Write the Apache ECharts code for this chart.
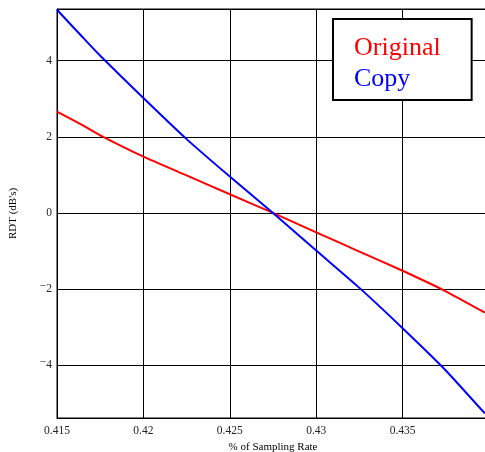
<!DOCTYPE html>
<html>
<head>
<meta charset="utf-8">
<script src="https://cdn.jsdelivr.net/npm/echarts@6/dist/echarts.min.js"></script>
<style>
html,body{margin:0;padding:0;background:#fff;}
#c{width:485px;height:452px;}
</style>
</head>
<body>
<div id="c"></div>
<script>
// Data
var xValues = [0.415, 0.4165, 0.4175, 0.42, 0.4225, 0.425, 0.4275, 0.43, 0.4325, 0.435, 0.4375, 0.43976];
var originalValues = [2.66, 2.3, 2.04, 1.48, 0.985, 0.49, 0.0, -0.51, -1.015, -1.52, -2.06, -2.62];
var copyValues = [5.34, 4.61, 4.13, 3.02, 1.94, 0.955, 0.0, -0.99, -1.97, -3.03, -4.14, -5.27];
var seriesNames = ['Original', 'Copy'];
var xTickLabels = ['0.415', '0.42', '0.425', '0.43', '0.435'];
var xAxisTitle = '% of Sampling Rate';
var yAxisTitle = "RDT (dB's)";

function pairs(xs, ys) {
  return xs.map(function (x, i) { return [x, ys[i]]; });
}

var chart = echarts.init(document.getElementById('c'), null, {renderer: 'canvas'});
var font = "'Liberation Serif', 'Times New Roman', serif";

chart.setOption({
  animation: false,
  backgroundColor: '#fff',
  textStyle: {fontFamily: font},
  grid: {
    left: 57, top: 9, right: -4, bottom: 34,
    outerBoundsMode: 'none',
    containLabel: false,
    show: true, borderColor: '#000', borderWidth: 1, backgroundColor: 'transparent'
  },
  legend: {
    orient: 'vertical',
    left: 333, top: 19,
    icon: 'none',
    itemWidth: 0, itemHeight: 0,
    itemGap: 5,
    padding: [16, 31, 8, 16],
    backgroundColor: '#fff',
    borderColor: '#000',
    borderWidth: 2,
    borderRadius: 0,
    selectedMode: false,
    data: [
      {name: seriesNames[0], textStyle: {color: '#ff0000'}},
      {name: seriesNames[1], textStyle: {color: '#0000ff'}}
    ],
    textStyle: {fontFamily: font, fontSize: 26, lineHeight: 26}
  },
  xAxis: {
    type: 'value',
    min: 0.415, max: 0.44, interval: 0.005,
    name: xAxisTitle,
    nameLocation: 'middle',
    nameGap: 22,
    nameTextStyle: {fontFamily: font, fontSize: 11, color: '#000'},
    axisLine: {show: true, onZero: false, lineStyle: {color: '#000', width: 1}},
    axisTick: {show: false},
    axisLabel: {
      margin: 7, fontFamily: font, fontSize: 11.5, color: '#222',
      formatter: function (v) {
        var s = (Math.round(v * 1000) / 1000).toString();
        return xTickLabels.indexOf(s) >= 0 ? s : '';
      }
    },
    splitLine: {show: true, lineStyle: {color: '#000', width: 1}}
  },
  yAxis: {
    type: 'value',
    min: -5.39, max: 5.36, splitNumber: 5,
    name: yAxisTitle,
    nameLocation: 'middle',
    nameRotate: 90,
    nameGap: 38,
    nameTextStyle: {fontFamily: font, fontSize: 11, color: '#000'},
    axisLine: {show: true, onZero: false, lineStyle: {color: '#000', width: 1}},
    axisTick: {show: false},
    axisLabel: {
      margin: 5, fontFamily: font, fontSize: 11.5, color: '#222',
      showMinLabel: false, showMaxLabel: false,
      formatter: function (v) {
        var r = Math.round(v);
        return r < 0 ? '{m|\u2212}{d|' + Math.abs(r) + '}' : '{d|' + r + '}';
      },
      rich: {
        m: {fontFamily: font, fontSize: 11.5, color: '#222', padding: [0, 0, 7, 0]},
        d: {fontFamily: font, fontSize: 11.5, color: '#222'}
      }
    },
    splitLine: {show: true, lineStyle: {color: '#000', width: 1}}
  },
  series: [
    {
      name: seriesNames[0], type: 'line', data: pairs(xValues, originalValues),
      showSymbol: false, smooth: 0.15, clip: true,
      lineStyle: {color: '#ff0000', width: 2}, itemStyle: {color: '#ff0000'}
    },
    {
      name: seriesNames[1], type: 'line', data: pairs(xValues, copyValues),
      showSymbol: false, smooth: 0.15, clip: true,
      lineStyle: {color: '#0000ff', width: 2}, itemStyle: {color: '#0000ff'}
    }
  ]
});
</script>
</body>
</html>
